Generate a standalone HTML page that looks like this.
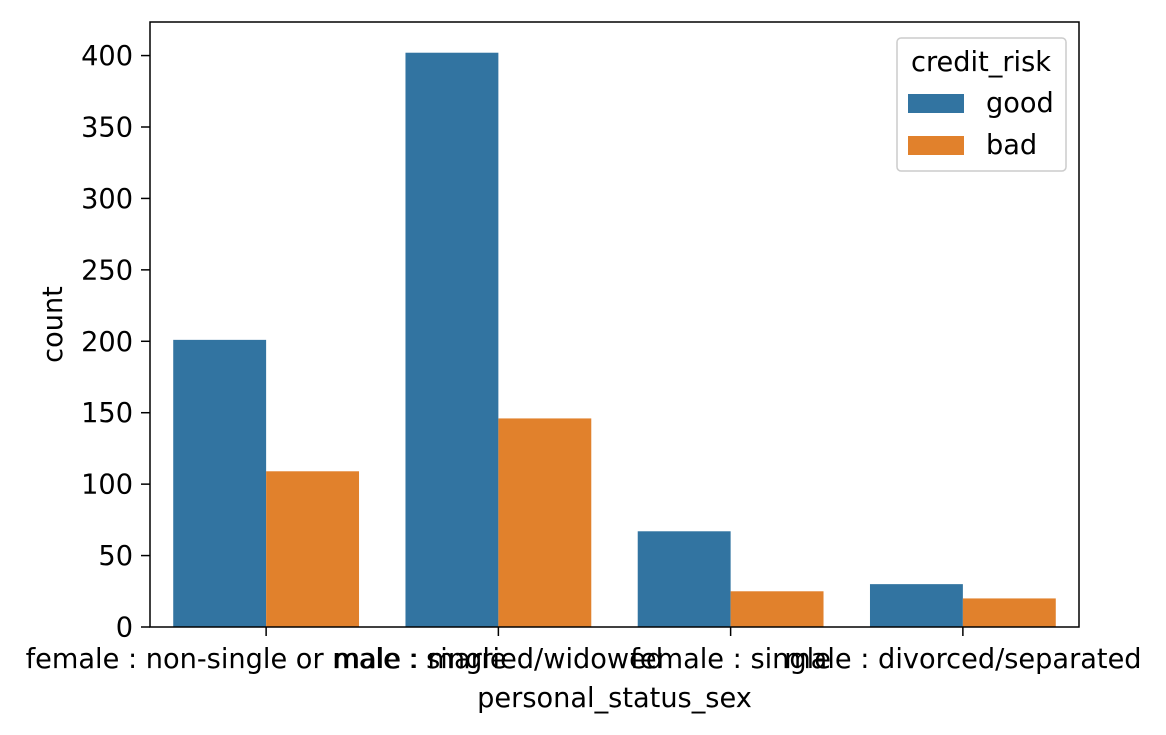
<!DOCTYPE html>
<html><head><meta charset="utf-8"><style>
html,body{margin:0;padding:0;background:#fff;}
svg{display:block;font-family:"DejaVu Sans","Liberation Sans",sans-serif;}
</style></head><body>
<svg id="chart" width="1166" height="735" viewBox="0 0 1166 735"></svg>
<script>
const categories = ["female : non-single or male : single","male : married/widowed","female : single","male : divorced/separated"];
const goodValues = [201, 402, 67, 30];
const badValues = [109, 146, 25, 20];
const yTicks = [0, 50, 100, 150, 200, 250, 300, 350, 400];
const seriesNames = ["good", "bad"];

const NS = "http://www.w3.org/2000/svg";
const svg = document.getElementById("chart");
const L = 150, R = 1079, T = 22, B = 627;
const yMax = 423.5;
const FS = 27.2;
const y = v => B - v / yMax * (B - T);
const band = (R - L) / categories.length;
const xc = i => L + band * (i + 0.5);
const barW = band * 0.8 / 2;
const colors = ["#3274a1", "#e1812c"];

function mk(tag, attrs, text) {
  const e = document.createElementNS(NS, tag);
  for (const k in attrs) e.setAttribute(k, attrs[k]);
  if (text !== undefined) e.textContent = text;
  svg.appendChild(e);
  return e;
}

[goodValues, badValues].forEach((vals, s) => {
  vals.forEach((v, i) => {
    const x0 = xc(i) - barW + s * barW;
    const r = mk("rect", {x: x0, y: y(v), width: barW, height: B - y(v), fill: colors[s]});
    
    
  });
});

yTicks.forEach(t => {
  const l = mk("line", {x1: L - 9, x2: L, y1: y(t), y2: y(t), stroke: "#000", "stroke-width": 1.5});
  
  
  const tx = mk("text", {x: L - 17, y: y(t) + 9.5, "text-anchor": "end", "font-size": FS}, String(t));
  
  
});

categories.forEach((c, i) => {
  const l = mk("line", {x1: xc(i), x2: xc(i), y1: B, y2: B + 9, stroke: "#000", "stroke-width": 1.5});
  
  
  const tx = mk("text", {x: xc(i), y: 668, "text-anchor": "middle", "font-size": FS}, c);
  
  
});

const frame = mk("rect", {x: L, y: T, width: R - L, height: B - T, fill: "none", stroke: "#000", "stroke-width": 1.5});



const xt = mk("text", {x: (L + R) / 2, y: 707, "text-anchor": "middle", "font-size": FS}, "personal_status_sex");


const yt = mk("text", {x: 0, y: 0, transform: "translate(62," + ((T + B) / 2) + ") rotate(-90)", "text-anchor": "middle", "font-size": FS}, "count");



const lg = mk("rect", {x: 897, y: 38, width: 169, height: 133, rx: 4, fill: "#fff", "fill-opacity": 0.8, stroke: "#ccc", "stroke-width": 1.5});


const lt = mk("text", {x: 981, y: 71, "text-anchor": "middle", "font-size": FS}, "credit_risk");


seriesNames.forEach((n, s) => {
  const yy = 94 + s * 42;
  const p = mk("rect", {x: 908, y: yy, width: 56, height: 19, fill: colors[s]});
  
  
  const t = mk("text", {x: 986, y: yy + 18, "font-size": FS}, n);
  
  
});
</script>
</body></html>
